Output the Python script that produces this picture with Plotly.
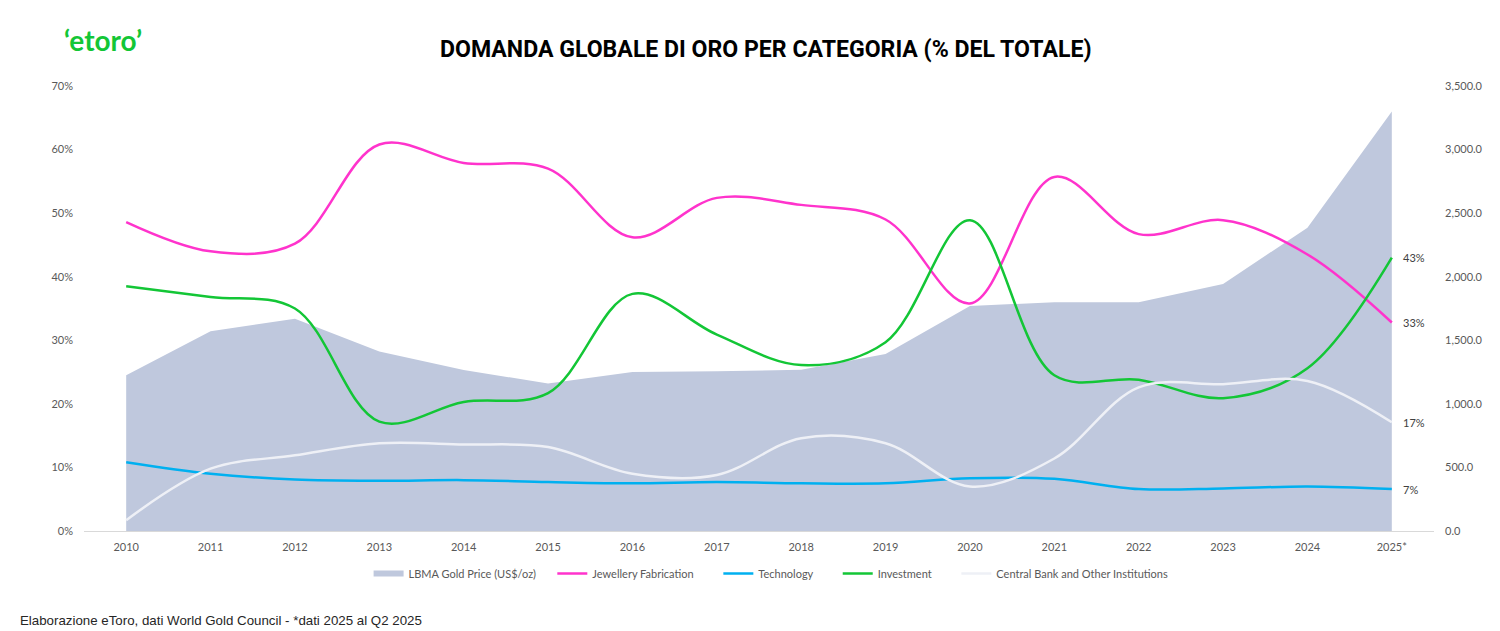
import plotly.graph_objects as go

years = ["2010", "2011", "2012", "2013", "2014", "2015", "2016", "2017",
         "2018", "2019", "2020", "2021", "2022", "2023", "2024", "2025*"]
gold_price = [1225, 1572, 1669, 1411, 1266, 1160, 1250, 1257,
              1268, 1393, 1770, 1799, 1800, 1943, 2386, 3300]
jewellery = [48.6, 44.0, 45.2, 60.8, 57.9, 57.0, 46.2, 52.4,
             51.3, 49.0, 35.8, 55.7, 46.7, 48.9, 43.5, 32.8]
technology = [10.8, 9.0, 8.1, 7.9, 8.0, 7.7, 7.5, 7.7,
              7.5, 7.5, 8.3, 8.2, 6.6, 6.7, 7.0, 6.6]
investment = [38.5, 36.8, 35.0, 17.2, 20.3, 21.7, 37.3, 30.9,
              26.1, 29.7, 48.9, 24.5, 23.8, 20.9, 25.6, 43.0]
central_banks = [1.7, 9.8, 11.9, 13.8, 13.6, 13.2, 9.0, 8.8,
                 14.6, 13.8, 7.0, 11.4, 22.6, 23.1, 23.6, 17.1]

TICK_FONT = dict(family="Lato", size=11, color="#595959")
LEGEND_GAP = "\u00a0" * 7  # plotly has no option for the gap between legend items


def line_trace(name, values, color):
    return go.Scatter(x=years, y=values, name=name + LEGEND_GAP, yaxis="y2", mode="lines",
                      line=dict(color=color, width=2.5, shape="spline", smoothing=1))


fig = go.Figure()
fig.add_trace(go.Scatter(x=years, y=gold_price, name="LBMA Gold Price (US$/oz)" + "\u00a0" * 4, mode="none",
                         fill="tozeroy", fillcolor="#BFC8DD"))
fig.add_trace(line_trace("Jewellery Fabrication", jewellery, "#FF33CC"))
fig.add_trace(line_trace("Technology", technology, "#00B0F0"))
fig.add_trace(line_trace("Investment", investment, "#13C636"))
fig.add_trace(line_trace("Central Bank and Other Institutions", central_banks, "#EEF0F6"))

# the page body has an 8px margin, so the figure is smaller than the window
fig.update_layout(
    width=1484, height=623, margin=dict(l=76, r=58, t=78, b=100),
    paper_bgcolor="white", plot_bgcolor="white", showlegend=True,
    xaxis=dict(type="category", range=[-0.5, 15.5], showgrid=False, ticks="", automargin=False,
               showline=True, linecolor="#D9D9D9", tickfont=TICK_FONT, ticklabelstandoff=6),
    # gold area sits on the primary axis so the lines draw over it
    yaxis=dict(range=[0, 3500], dtick=500, tickformat=",.1f", side="right", showgrid=False,
               zeroline=False, tickfont=TICK_FONT, ticklabelstandoff=10, automargin=False),
    yaxis2=dict(range=[0, 70], dtick=10, ticksuffix="%", side="left", overlaying="y", automargin=False,
                showgrid=False, zeroline=False, tickfont=TICK_FONT, ticklabelstandoff=10),
    legend=dict(orientation="h", x=0.516, xanchor="center", y=-0.063, yanchor="top",
                font=TICK_FONT, itemwidth=30),
)
for values in [jewellery, technology, investment, central_banks]:
    fig.add_annotation(text=f"{round(values[-1])}%", x=years[-1], y=values[-1], xref="x", yref="y2",
                       xanchor="left", xshift=9, showarrow=False,
                       font=dict(family="Lato", size=11, color="#404040"))
fig.add_annotation(text="DOMANDA GLOBALE DI ORO PER CATEGORIA (% DEL TOTALE)", xref="paper", yref="paper",
                   x=0.505, xanchor="center", y=1.083, yanchor="middle", showarrow=False,
                   font=dict(family="Roboto", size=23.1, color="black", weight="bold"))
fig.add_annotation(text="‘etoro’", xref="paper", yref="paper", x=0.014, xanchor="center", y=1.103,
                   yanchor="middle", showarrow=False,
                   font=dict(family="Lato", size=28, color="#13C636", weight="bold"))
fig.add_annotation(text="Elaborazione eToro, dati World Gold Council - *dati 2025 al Q2 2025",
                   xref="paper", yref="paper", x=-0.0489, xanchor="left", y=-0.2, yanchor="middle",
                   showarrow=False, font=dict(family="Liberation Sans", size=13.3, color="#262626"))
fig.write_html("out.html")
